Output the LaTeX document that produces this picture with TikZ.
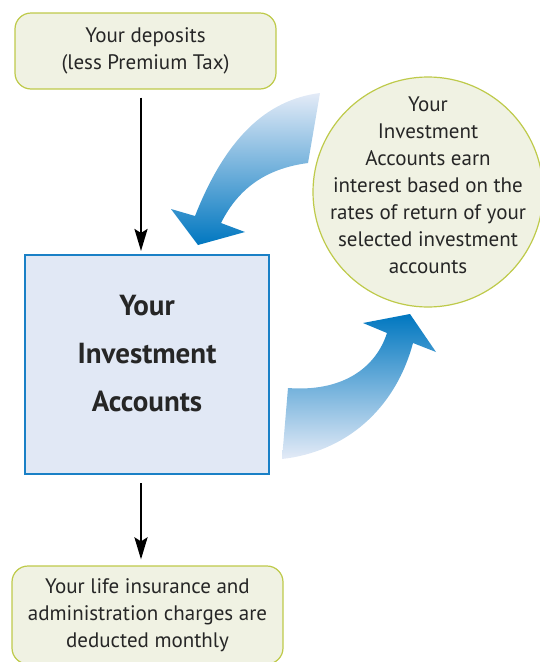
\documentclass[tikz,border=0pt]{standalone}
\usepackage{fontspec}
\setmainfont{PT Sans}
\usetikzlibrary{arrows.meta, positioning}
\definecolor{NoteFill}{RGB}{240,242,227}
\definecolor{NoteLine}{RGB}{190,202,74}
\definecolor{AcctFill}{RGB}{225,232,245}
\definecolor{AcctLine}{RGB}{26,128,198}
\definecolor{FlowBlue}{RGB}{0,119,192}
\definecolor{FlowPale}{RGB}{228,235,247}
\definecolor{InkGray}{RGB}{38,38,38}

\begin{document}
\begin{tikzpicture}[x=1pt, y=-1pt, font=\fontsize{21}{27}\selectfont,
	note/.style={draw=NoteLine, line width=1.2pt, fill=NoteFill, rounded corners=16pt,
		align=center, text=InkGray, inner sep=0pt},
	acct/.style={draw=AcctLine, line width=2pt, fill=AcctFill, inner sep=0pt},
	acctname/.style={align=center, text=InkGray, font=\fontsize{29}{48}\selectfont\bfseries},
	earn/.style={circle, draw=NoteLine, line width=1.2pt, fill=NoteFill, inner sep=0pt},
	earnname/.style={align=center, text=InkGray},
	fl/.style={-{Stealth[length=22pt, width=13pt, inset=4pt]}, line width=2.6pt, black},
	swirl/.style={middle color=FlowBlue!72!FlowPale, shading angle=-45}]

	\useasboundingbox (0,0) rectangle (539,662);

	% --- boxes ---
	\node[note, minimum width=261pt, minimum height=76pt] (deposits) at (145.5,51)
		{Your deposits\\(less Premium Tax)};
	\node[acct, minimum width=244pt, minimum height=219pt,
		label={[acctname, name=acctlabel, yshift=11pt]center:Your\\Investment\\Accounts}]
		(accounts) at (147,364.5) {};
	\node[note, minimum width=271pt, minimum height=98pt] (charges) at (147.5,615)
		{Your life insurance and\\administration charges are\\deducted monthly};
	\node[earn, minimum size=230pt,
		label={[earnname, name=earnlabel, yshift=7pt]center:Your\\Investment\\Accounts earn\\interest based on the\\rates of return of your\\selected investment\\accounts}]
		(interest) at (428,192) {};

	% --- straight flows ---
	\draw[fl] ([xshift=-4.5pt, yshift=-8pt]deposits.south) -- ([xshift=-6pt, yshift=3pt]accounts.north);
	\draw[fl] ([xshift=-6pt, yshift=-8pt]accounts.south) -- ([xshift=-6.5pt, yshift=6pt]charges.north);

	% --- curved flows ---
	\shade[swirl, top color=FlowPale, bottom color=FlowBlue]
		(320,93) .. controls (265,100) and (225,140) .. (195,216) -- (171,209)
		-- (198,245) -- (245,232) -- (221,223)
		.. controls (240,185) and (270,168) .. (308,163) -- cycle;
	\shade[swirl, top color=FlowBlue, bottom color=FlowPale]
		(288,388) .. controls (340,392) and (375,370) .. (387,333) -- (363,323)
		-- (410,314) -- (436,352) -- (413,343)
		.. controls (395,410) and (345,452) .. (282,459) -- cycle;
\end{tikzpicture}
\end{document}
